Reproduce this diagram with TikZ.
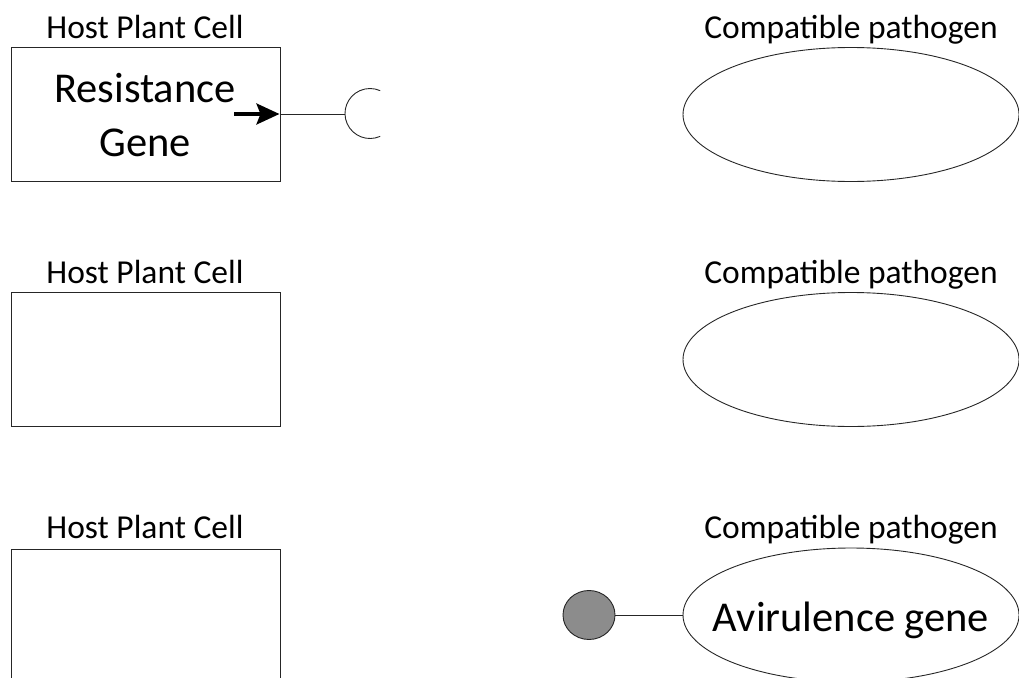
\documentclass[tikz,border=0pt]{standalone}
\usepackage{fontspec}
\setmainfont{Carlito}
\usetikzlibrary{shapes.geometric,arrows.meta}
\begin{document}
\begin{tikzpicture}[x=1pt,y=-1pt,
  cellbox/.style={draw=black!85,line width=0.9pt,rectangle,minimum width=269pt,minimum height=134pt,inner sep=0pt},
  pathogen/.style={draw=black!85,line width=0.9pt,ellipse,minimum width=336pt,minimum height=134pt,inner sep=0pt},
  title/.style={font=\fontsize{33.5}{36}\selectfont,inner sep=0pt,anchor=base},
  big/.style={font=\fontsize{42.5}{50}\selectfont,inner sep=0pt,anchor=base},
  conn/.style={draw=black!85,line width=0.9pt}]
\useasboundingbox (0,0) rectangle (1019,677);
\clip (0,0) rectangle (1019,677);
% row 1
\node[title] (t1) at (145,38) {Host Plant Cell};
\node[cellbox] (c1) at (145.5,114) {};
\node[big] (rg1) at (145,102) {Resistance};
\node[big] (rg2) at (145,156) {Gene};
\node[title] (p1t) at (851,38) {Compatible pathogen};
\node[pathogen] (p1) at (851,114.5) {};
\coordinate (a0) at (234,114);
\coordinate (r0) at (345,114);
\coordinate (rc) at (370,113.5);
\draw[line width=3.2pt,-{Stealth[length=23pt,width=21pt,inset=4pt]}] (a0) -- ([xshift=-1pt]c1.east);
\draw[conn] (c1.east) -- (r0);
\draw[conn] (rc) ++(66:25) arc[start angle=66,end angle=294,radius=25];
% row 2
\node[title] (t2) at (145,283) {Host Plant Cell};
\node[cellbox] (c2) at (145.5,359) {};
\node[title] (p2t) at (851,283) {Compatible pathogen};
\node[pathogen] (p2) at (851,359.5) {};
% row 3
\node[title] (t3) at (145,538) {Host Plant Cell};
\node[cellbox,minimum height=200pt,anchor=north] (c3) at (145.5,549) {};
\node[title] (p3t) at (851,538) {Compatible pathogen};
\node[pathogen] (p3) at (851,615) {};
\node[big] (av) at (851,631) {Avirulence gene};
\node[draw=black!85,line width=0.9pt,fill=black!45,ellipse,minimum width=52pt,minimum height=49pt,inner sep=0pt] (g) at (589,615) {};
\draw[conn] (g.east) -- (p3.west);
\end{tikzpicture}
\end{document}
